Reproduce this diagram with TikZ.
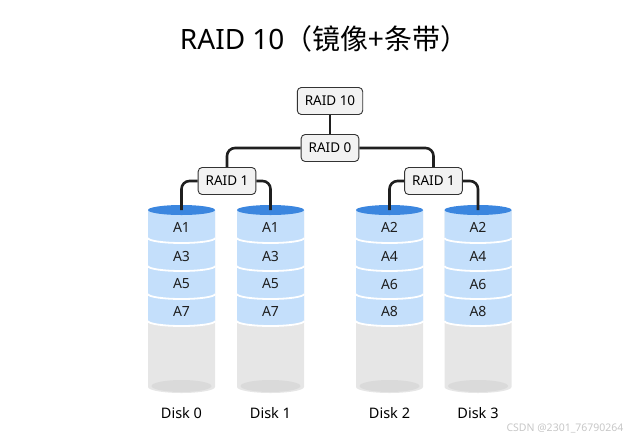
\documentclass[tikz,border=0pt]{standalone}
\usepackage{fontspec}
\setmainfont{Noto Sans}
\newfontfamily\cjk{Noto Sans CJK SC}
\usetikzlibrary{positioning}
\definecolor{disktop}{HTML}{3B86DF}
\definecolor{diskband}{HTML}{C4DFFB}
\definecolor{diskgray}{HTML}{E6E6E6}
\definecolor{diskfoot}{HTML}{DADADA}
\definecolor{boxfill}{HTML}{F2F2F2}
\tikzset{
  raid/.style={draw=black!80, fill=boxfill, rounded corners=4pt, line width=0.9pt,
    minimum height=27pt, inner xsep=7.5pt, font=\fontsize{13.5}{16}\selectfont},
  link/.style={line width=2.6pt, draw=black!88, rounded corners=8pt},
  cell/.style={font=\fontsize{14}{16}\selectfont, text=black!88},
  disklabel/.style={font=\fontsize{14.5}{17}\selectfont},
}

\begin{document}
\begin{tikzpicture}[x=1pt, y=-1pt]
   \useasboundingbox (0,0) rectangle (642,440);
   \node[font=\fontsize{28}{32}\selectfont] (title) at (324,39) {RAID 10{\cjk （镜像+条带）}};

   % disks
   \foreach \i/\x/\a/\b/\c/\d in {0/181.5/A1/A3/A5/A7, 1/270.5/A1/A3/A5/A7,
                                  2/389.5/A2/A4/A6/A8, 3/478/A2/A4/A6/A8} {
      \fill[diskgray] (\x-33.5,210) -- (\x-33.5,387)
         arc[start angle=180, end angle=360, x radius=33.5pt, y radius=6pt] -- (\x+33.5,210) -- cycle;
      \fill[diskfoot] (\x,386) ellipse[x radius=30pt, y radius=6pt];
      \fill[diskband] (\x-33.5,210) -- (\x-33.5,321)
         arc[start angle=180, end angle=360, x radius=33.5pt, y radius=5pt] -- (\x+33.5,210) -- cycle;
      \foreach \s in {238,266,294,321}
         \draw[white, line width=1.8pt] (\x-33.5,\s)
            arc[start angle=180, end angle=360, x radius=33.5pt, y radius=5pt];
      \fill[disktop] (\x,210) ellipse[x radius=33.5pt, y radius=5pt];
      \coordinate (d\i) at (\x,210);
      \node[cell] (c\i-1) at (\x,227) {\a};
      \node[cell] (c\i-2) at (\x,256) {\b};
      \node[cell] (c\i-3) at (\x,284) {\c};
      \node[cell] (c\i-4) at (\x,311) {\d};
      \node[disklabel] (n\i) at (\x,413) {Disk \i};
   }

   \node[raid] (r10) at (330,101) {RAID 10};
   \node[raid] (r0) at (330,148) {RAID 0};
   \node[raid] (r1a) at (227,181) {RAID 1};
   \node[raid] (r1b) at (433.5,181) {RAID 1};

   \draw[link] (r10) -- (r0);
   \draw[link] (r0.west) -| (r1a.north);
   \draw[link] (r0.east) -| (r1b.north);
   \draw[link] (r1a.west) -| (d0);
   \draw[link] (r1a.east) -| (d1);
   \draw[link] (r1b.west) -| (d2);
   \draw[link] (r1b.east) -| (d3);

   \node[font=\fontsize{10.5}{12}\selectfont, text=black!22] (mark) at (565,428) {CSDN @2301\_76790264};
\end{tikzpicture}
\end{document}
